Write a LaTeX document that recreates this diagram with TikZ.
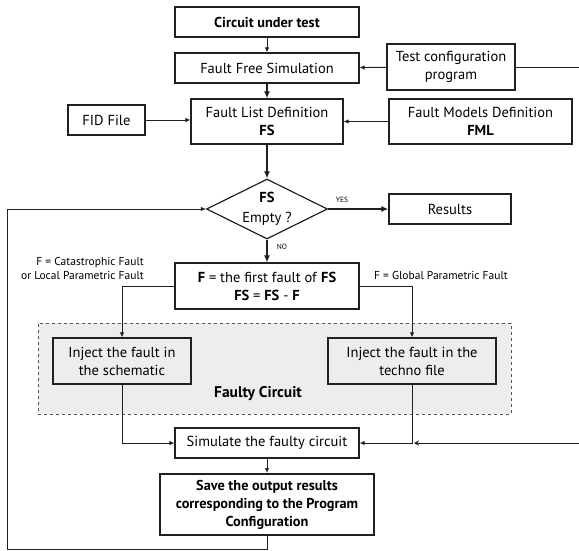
\documentclass[tikz,border=0pt]{standalone}
\usepackage{fontspec}
\setmainfont{PT Sans}
\usetikzlibrary{shapes.geometric, arrows.meta, positioning}
\definecolor{ink}{HTML}{231F20}
\definecolor{zonefill}{HTML}{EDEDED}
\definecolor{zoneedge}{HTML}{555555}
\tikzstyle{process} = [rectangle, draw=ink, line width=1.2pt, align=center, inner sep=0pt, font=\fontsize{14.5}{18}\selectfont]
\tikzstyle{keystep} = [process, line width=2pt, font=\fontsize{14.3}{18}\selectfont\bfseries]
\tikzstyle{decision} = [diamond, draw=ink, line width=1.2pt, align=center, inner sep=0pt, aspect=2, font=\fontsize{14.5}{20}\selectfont]
\tikzstyle{zone} = [rectangle, draw=zoneedge, fill=zonefill, dashed, line width=0.8pt]
\tikzstyle{arrow} = [draw=ink, line width=0.9pt, -{Latex[length=5pt, width=4.5pt]}]
\tikzstyle{thickarrow} = [draw=ink, line width=2pt, -{Latex[length=7pt, width=6pt]}]
\tikzstyle{feed} = [draw=ink, line width=0.9pt, -{Stealth[length=5pt, width=5pt]}]
\tikzstyle{note} = [font=\fontsize{11.5}{14}\selectfont, align=right, inner sep=0pt]
\tikzstyle{tag} = [font=\fontsize{7.5}{9}\selectfont, inner sep=0pt]

\begin{document}
\begin{tikzpicture}[x=1pt, y=-1pt]
\useasboundingbox (0,0) rectangle (579,550);

% grey box around the two injection steps
\node[zone, minimum width=473pt, minimum height=91pt] (faulty) at (274.5,368.5) {};
\node[font=\fontsize{15.5}{18}\selectfont\bfseries] (faultylabel) at (258,394) {Faulty Circuit};

% main column
\node[keystep, minimum width=184pt, minimum height=30pt] (cut) at (267,22) {Circuit under test};
\node[process, minimum width=184pt, minimum height=30pt] (ffs) at (267,68) {Fault Free Simulation};
\node[process, minimum width=152pt, minimum height=45pt] (fld) at (267,121.5) {Fault List Definition\\\textbf{FS}};
\node[decision, minimum width=121pt, minimum height=60pt] (empty) at (267,209) {\textbf{FS}\\Empty ?};
\node[process, minimum width=184pt, minimum height=46pt] (first) at (267,286) {\textbf{F} = the first fault of \textbf{FS}\\\textbf{FS} = \textbf{FS} - \textbf{F}};
\node[process, minimum width=138pt, minimum height=46pt] (injsch) at (122,361) {Inject the fault in\\the schematic};
\node[process, minimum width=168pt, minimum height=46pt] (injtech) at (412,361) {Inject the fault in the\\techno file};
\node[process, minimum width=184pt, minimum height=30pt] (sim) at (267,443) {Simulate the faulty circuit};
\node[keystep, minimum width=214pt, minimum height=61pt] (save) at (267,504.5) {Save the output results\\corresponding to the Program\\Configuration};

% side inputs and output
\node[process, minimum width=128pt, minimum height=46pt] (cfg) at (451,67) {Test configuration\\program};
\node[process, minimum width=77pt, minimum height=30pt] (fid) at (106.5,120) {FID File};
\node[process, minimum width=183pt, minimum height=45pt] (fml) at (480.5,121.5) {Fault Models Definition\\\textbf{FML}};
\node[process, minimum width=122pt, minimum height=30pt] (results) at (450,209) {Results};

% branch notes
\node[note, anchor=east] (catnote) at (144,268) {F = Catastrophic Fault\\or Local Parametric Fault};
\node[note, anchor=west] (globnote) at (374,275) {F = Global Parametric Fault};
\node[tag] (yes) at (342,200) {YES};
\node[tag] (no) at (282,247) {NO};

\coordinate (cfgout) at (579,67);
\coordinate (cfgin) at (579,443);
\coordinate (cfgtip) at (414,443);
\coordinate (loopcorner) at (7,549);

% connectors
\draw[arrow] (cut) -- (ffs);
\draw[thickarrow] (ffs) -- (fld);
\draw[arrow] (cfg) -- (ffs);
\draw[draw=ink, line width=0.9pt] (cfg) -- (cfgout);
\draw[arrow] (fid) -- (fid -| fld.west);
\draw[arrow] (fml.west) -- (fml.west -| fld.east);
\draw[thickarrow] (fld) -- (empty);
\draw[thickarrow] (empty) -- (results);
\draw[thickarrow] (empty) -- (first);
\draw[arrow] (first.west) -| (injsch.north);
\draw[arrow] (first.east) -| (injtech.north);
\draw[arrow] (injsch.south) |- (sim.west);
\draw[arrow] (injtech.south) |- (sim.east);
\draw[feed] (cfgin) -- (cfgtip);
\draw[arrow] (sim) -- (save);
\draw[arrow] (save.south) |- (loopcorner) |- (empty.west);
\end{tikzpicture}
\end{document}
